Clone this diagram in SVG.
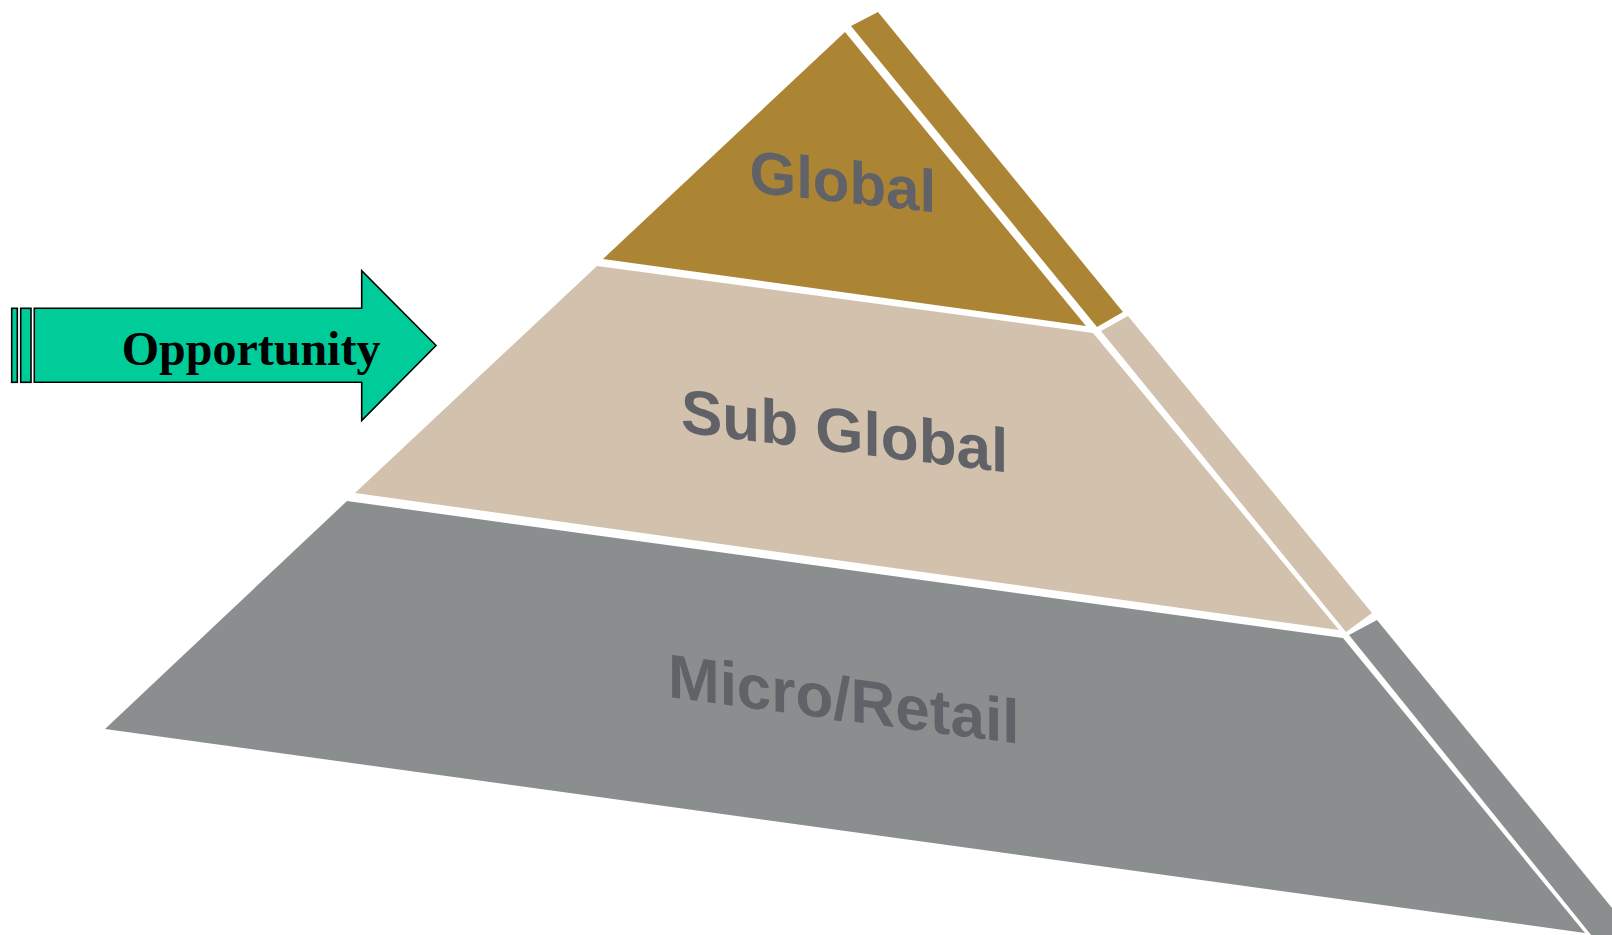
<svg xmlns="http://www.w3.org/2000/svg" width="1612" height="935" viewBox="0 0 1612 935">
<style>
.lbl{font-family:"Liberation Sans",Arial,sans-serif;font-weight:bold;fill:#606268;}
.arr{fill:#00CC99;stroke:#000;stroke-width:1.6;}
.opp{font-family:"Liberation Serif","Times New Roman",serif;font-weight:bold;font-size:48px;fill:#000;}
</style>
<rect width="1612" height="935" fill="#fff"/>
<g id="micro-retail">
<polygon points="347,501 1343,638 1585,933 105,729" fill="#8B8E8F"/>
<polygon points="1349,635 1377,620 1630,930 1600,946" fill="#8B8E8F"/>
<text class="lbl" font-size="62" transform="translate(668,697) skewY(7.6)">Micro/Retail</text>
</g>
<g id="sub-global">
<polygon points="597,266 1093,333 1339,630 355,493" fill="#D2C1AC"/>
<polygon points="1101,331 1128,316 1372,613 1346,632" fill="#D2C1AC"/>
<text class="lbl" font-size="62" transform="translate(681,432) skewY(7.1)">Sub Global</text>
</g>
<g id="global">
<polygon points="845,32 1086,326 603,259" fill="#AB8534"/>
<polygon points="851,26 878,12 1123,312 1097,327" fill="#AB8534"/>
<text class="lbl" font-size="60" transform="translate(749.5,192) skewY(6.3)">Global</text>
</g>
<g id="opportunity-arrow">
<rect class="arr" x="11.7" y="308.3" width="5.6" height="74"/>
<rect class="arr" x="20.7" y="308.3" width="10.3" height="74"/>
<polygon class="arr" points="34.3,308.3 361.7,308.3 361.7,270.7 436,345.5 361.7,420.5 361.7,382.3 34.3,382.3"/>
<text class="opp" x="121.7" y="365">Opportunity</text>
</g>
<g id="connectors"/>
</svg>
